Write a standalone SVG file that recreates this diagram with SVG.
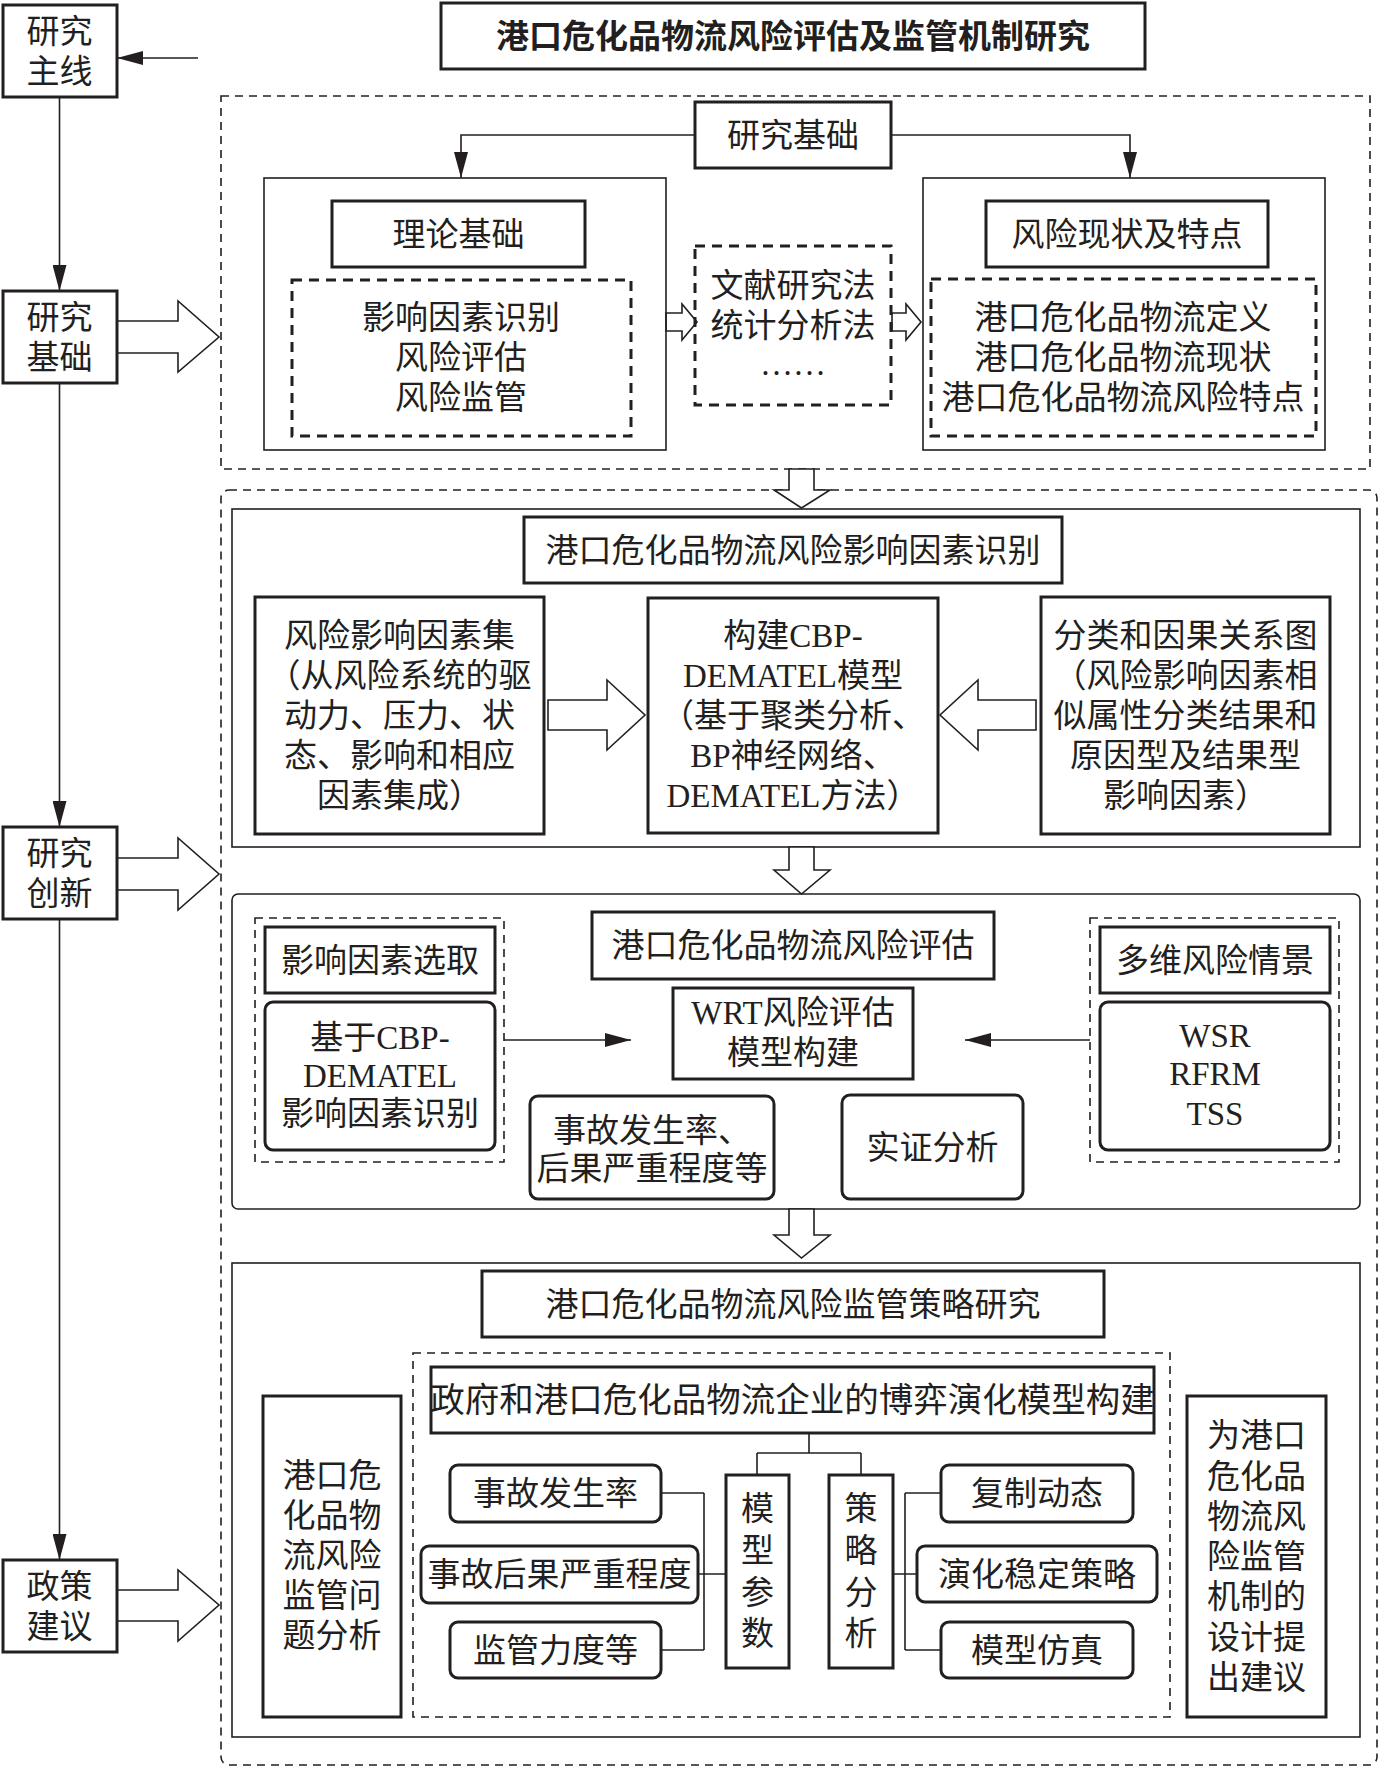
<svg xmlns="http://www.w3.org/2000/svg" width="1380" height="1768" viewBox="0 0 1380 1768">
<style>
text{font-family:"Liberation Serif","Noto Sans CJK SC",serif;font-size:33px;fill:#231f20;text-anchor:middle}
.title{font-weight:bold}
.b{fill:#fff;stroke:#231f20;stroke-width:3}
.t{fill:none;stroke:#231f20;stroke-width:1.6}
.d{fill:none;stroke:#231f20;stroke-width:1.6;stroke-dasharray:8 6}
.dt{fill:none;stroke:#231f20;stroke-width:3;stroke-dasharray:10 7}
.ln{fill:none;stroke:#231f20;stroke-width:1.6}
.ba{fill:#fff;stroke:#231f20;stroke-width:1.6;stroke-linejoin:miter}
</style>
<defs>
<marker id="ah" markerUnits="userSpaceOnUse" markerWidth="26" markerHeight="14" refX="26" refY="7" orient="auto">
<path d="M0,0 L26,7 L0,14 z" fill="#231f20"/>
</marker>
</defs>
<rect width="1380" height="1768" fill="#fff"/>

<!-- containers -->
<g id="containers">
<rect class="d" x="221" y="96" width="1149" height="373"/>
<rect class="d" x="221" y="490" width="1156" height="1275" rx="8"/>
<rect class="t" x="232" y="509" width="1128" height="338"/>
<rect class="t" x="232" y="894" width="1128" height="315" rx="6"/>
<rect class="t" x="232" y="1263" width="1128" height="474"/>
</g>

<!-- connectors -->
<g id="connectors">
<line class="ln" x1="198" y1="58" x2="117" y2="58" marker-end="url(#ah)"/>
<line class="ln" x1="59.5" y1="97" x2="59.5" y2="291" marker-end="url(#ah)"/>
<line class="ln" x1="59.5" y1="383" x2="59.5" y2="827" marker-end="url(#ah)"/>
<line class="ln" x1="59.5" y1="919" x2="59.5" y2="1560" marker-end="url(#ah)"/>
<polygon class="ba" points="117,321 178,321 178,301 219,337 178,372 178,353 117,353"/>
<polygon class="ba" points="117,858 178,858 178,838 219,874 178,910 178,890 117,890"/>
<polygon class="ba" points="117,1590 178,1590 178,1570 219,1605 178,1641 178,1621 117,1621"/>
<path class="ln" d="M695,135 H461 V178" marker-end="url(#ah)"/>
<path class="ln" d="M891,135 H1130 V178" marker-end="url(#ah)"/>
<polygon class="ba" points="666,313 682,313 682,304 697,322 682,340 682,331 666,331"/>
<polygon class="ba" points="892,313 906,313 906,304 921,322 906,340 906,331 892,331"/>
<polygon class="ba" points="789,469 814,469 814,490 830,490 801.5,508 774,490 789,490"/>
<polygon class="ba" points="548,700 607,700 607,680 645,715 607,750 607,730 548,730"/>
<polygon class="ba" points="1036,700 978,700 978,680 940,715 978,750 978,730 1036,730"/>
<polygon class="ba" points="789,847 814,847 814,870 830,870 801.5,894 774,870 789,870"/>
<line class="ln" x1="504" y1="1040" x2="631" y2="1040" marker-end="url(#ah)"/>
<line class="ln" x1="1090" y1="1040" x2="965" y2="1040" marker-end="url(#ah)"/>
<polygon class="ba" points="789,1209 814,1209 814,1235 830,1235 801.5,1258 774,1235 789,1235"/>
<path class="ln" d="M809,1433 V1453 M757,1453 H861 M757,1453 V1475 M861,1453 V1475"/>
<path class="ln" d="M661,1493 H704 M698,1574 H726 M661,1650 H704 M704,1493 V1650"/>
<path class="ln" d="M893,1574 H917 M905,1493 V1650 M905,1493 H941 M905,1650 H941"/>
</g>

<!-- left column -->
<g id="n-zhuxian"><rect class="b" x="3" y="5" width="114" height="92"/><text x="59.5" y="43">研究</text><text x="59.5" y="83">主线</text></g>
<g id="n-jichu-l"><rect class="b" x="3" y="291" width="114" height="92"/><text x="59.5" y="329">研究</text><text x="59.5" y="369">基础</text></g>
<g id="n-chuangxin"><rect class="b" x="3" y="827" width="114" height="92"/><text x="59.5" y="865">研究</text><text x="59.5" y="905">创新</text></g>
<g id="n-jianyi"><rect class="b" x="3" y="1560" width="114" height="92"/><text x="59.5" y="1598">政策</text><text x="59.5" y="1638">建议</text></g>

<!-- title -->
<g id="n-title"><rect class="b" x="441" y="3" width="704" height="66"/><text class="title" x="793" y="48">港口危化品物流风险评估及监管机制研究</text></g>

<!-- research basis -->
<g id="n-jichu"><rect class="b" x="695" y="102" width="196" height="66"/><text x="793" y="147">研究基础</text></g>
<g id="n-lilun">
<rect class="t" x="264" y="178" width="402" height="272"/>
<rect class="b" x="332" y="201" width="253" height="66"/><text x="458.5" y="246">理论基础</text>
<rect class="dt" x="292" y="280" width="339" height="156"/>
<text x="461" y="329">影响因素识别</text><text x="461" y="369">风险评估</text><text x="461" y="409">风险监管</text>
</g>
<g id="n-fangfa"><rect class="dt" x="695" y="246" width="196" height="159"/>
<text x="793" y="297">文献研究法</text><text x="793" y="337">统计分析法</text><text x="793" y="375">……</text></g>
<g id="n-xianzhuang">
<rect class="t" x="923" y="178" width="402" height="272"/>
<rect class="b" x="986" y="201" width="282" height="66"/><text x="1127" y="246">风险现状及特点</text>
<rect class="dt" x="931" y="279" width="385" height="157"/>
<text x="1123" y="329">港口危化品物流定义</text><text x="1123" y="369">港口危化品物流现状</text><text x="1123" y="409">港口危化品物流风险特点</text>
</g>

<!-- section 1 -->
<g id="n-s1title"><rect class="b" x="524" y="517" width="538" height="66"/><text x="793" y="562">港口危化品物流风险影响因素识别</text></g>
<g id="n-yinsuji"><rect class="b" x="255" y="597" width="289" height="237"/>
<text x="399.5" y="647">风险影响因素集</text><text x="399.5" y="687">（从风险系统的驱</text><text x="399.5" y="727">动力、压力、状</text><text x="399.5" y="767">态、影响和相应</text><text x="399.5" y="807">因素集成）</text></g>
<g id="n-cbp"><rect class="b" x="648" y="598" width="290" height="235"/>
<text x="793" y="647">构建CBP-</text><text x="793" y="687">DEMATEL模型</text><text x="793" y="727">（基于聚类分析、</text><text x="793" y="767">BP神经网络、</text><text x="793" y="807">DEMATEL方法）</text></g>
<g id="n-fenlei"><rect class="b" x="1041" y="597" width="289" height="237"/>
<text x="1185.5" y="647">分类和因果关系图</text><text x="1185.5" y="687">（风险影响因素相</text><text x="1185.5" y="727">似属性分类结果和</text><text x="1185.5" y="767">原因型及结果型</text><text x="1185.5" y="807">影响因素）</text></g>

<!-- section 2 -->
<g id="n-xuanqu">
<rect class="d" x="255" y="918" width="249" height="244"/>
<rect class="b" x="265" y="927" width="230" height="66"/><text x="380" y="972">影响因素选取</text>
<rect class="b" x="265" y="1002" width="230" height="148" rx="8"/>
<text x="380" y="1049">基于CBP-</text><text x="380" y="1087">DEMATEL</text><text x="380" y="1125">影响因素识别</text>
</g>
<g id="n-s2title"><rect class="b" x="592" y="912" width="402" height="67"/><text x="793" y="957">港口危化品物流风险评估</text></g>
<g id="n-wrt"><rect class="b" x="673" y="988" width="240" height="91"/><text x="793" y="1024">WRT风险评估</text><text x="793" y="1064">模型构建</text></g>
<g id="n-shigu"><rect class="b" x="530" y="1096" width="244" height="103" rx="8"/><text x="652" y="1142">事故发生率、</text><text x="652" y="1180">后果严重程度等</text></g>
<g id="n-shizheng"><rect class="b" x="842" y="1095" width="181" height="104" rx="8"/><text x="932.5" y="1159">实证分析</text></g>
<g id="n-qingjing">
<rect class="d" x="1090" y="918" width="249" height="244"/>
<rect class="b" x="1100" y="927" width="230" height="66"/><text x="1215" y="972">多维风险情景</text>
<rect class="b" x="1100" y="1002" width="230" height="148" rx="8"/>
<text x="1215" y="1047">WSR</text><text x="1215" y="1085">RFRM</text><text x="1215" y="1125">TSS</text>
</g>

<!-- section 3 -->
<g id="n-s3title"><rect class="b" x="482" y="1271" width="622" height="66"/><text x="793" y="1316">港口危化品物流风险监管策略研究</text></g>
<g id="n-wenti"><rect class="b" x="263" y="1396" width="138" height="321"/>
<text x="332" y="1487">港口危</text><text x="332" y="1527">化品物</text><text x="332" y="1567">流风险</text><text x="332" y="1607">监管问</text><text x="332" y="1647">题分析</text></g>
<g id="n-boyi">
<rect class="d" x="413" y="1353" width="757" height="364"/>
<rect class="b" x="431" y="1367" width="723" height="66"/><text x="792.5" y="1412" style="font-size:34.5px">政府和港口危化品物流企业的博弈演化模型构建</text>
</g>
<g id="n-fashenglv"><rect class="b" x="450" y="1465" width="211" height="57" rx="8"/><text x="555.5" y="1505">事故发生率</text></g>
<g id="n-houguo"><rect class="b" x="421" y="1546" width="277" height="57" rx="8"/><text x="559.5" y="1586">事故后果严重程度</text></g>
<g id="n-lidu"><rect class="b" x="450" y="1622" width="211" height="56" rx="8"/><text x="555.5" y="1662">监管力度等</text></g>
<g id="n-canshu"><rect class="b" x="726" y="1475" width="63" height="193"/>
<text x="757.5" y="1520">模</text><text x="757.5" y="1562">型</text><text x="757.5" y="1604">参</text><text x="757.5" y="1645">数</text></g>
<g id="n-celue"><rect class="b" x="829" y="1475" width="64" height="193"/>
<text x="861" y="1520">策</text><text x="861" y="1562">略</text><text x="861" y="1604">分</text><text x="861" y="1645">析</text></g>
<g id="n-fuzhi"><rect class="b" x="941" y="1465" width="192" height="57" rx="8"/><text x="1037" y="1505">复制动态</text></g>
<g id="n-wending"><rect class="b" x="917" y="1546" width="240" height="56" rx="8"/><text x="1037" y="1586">演化稳定策略</text></g>
<g id="n-fangzhen"><rect class="b" x="941" y="1622" width="192" height="56" rx="8"/><text x="1037" y="1662">模型仿真</text></g>
<g id="n-jianyi-r"><rect class="b" x="1187" y="1396" width="139" height="321"/>
<text x="1256.5" y="1447">为港口</text><text x="1256.5" y="1488">危化品</text><text x="1256.5" y="1528">物流风</text><text x="1256.5" y="1568">险监管</text><text x="1256.5" y="1608">机制的</text><text x="1256.5" y="1649">设计提</text><text x="1256.5" y="1689">出建议</text></g>
</svg>
